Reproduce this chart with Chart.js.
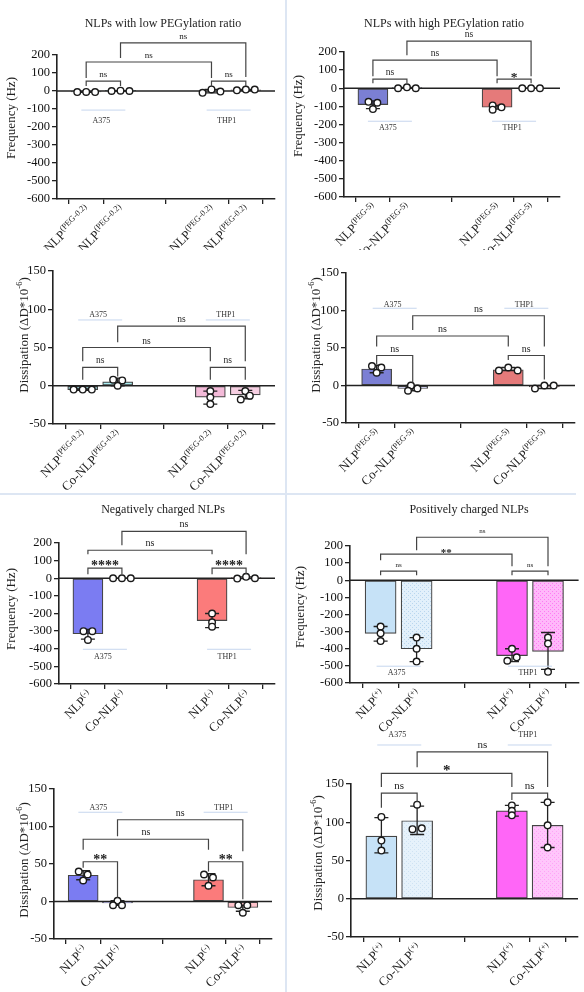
<!DOCTYPE html>
<html lang="en">
<head>
<meta charset="UTF-8">
<title>QCM-D frequency and dissipation of NLPs</title>
<script src="https://cdn.jsdelivr.net/npm/chart.js"></script>
<style>
  body { margin: 0; background: #fff; }
  #page { position: relative; width: 584px; height: 992px; overflow: hidden; }
  .panel { position: absolute; }
  .rule { position: absolute; background: #dde6f3; }
</style>
</head>
<body>
<div id="page">
  <div class="rule" style="left:285px;top:0;width:2px;height:992px"></div>
  <div class="rule" style="left:0;top:493px;width:576px;height:2px"></div>
</div>
<script>
// ---- data ----
const cellLines = ['A375', 'THP1'];
const sampleNames = ['NLP', 'Co-NLP', 'NLP', 'Co-NLP'];
// significance order: A375 pair, THP1 pair, NLP vs NLP, Co-NLP vs Co-NLP

// low PEGylation (PEG-0.2)
const freqLowMean = [-5, 1, 0, 6];
const freqLowPoints = [[-6, -5, -6], [0, 2, 0], [-10, 9, -3], [4, 8, 8]];
const freqLowErr = [[-7, -3], [-1, 2], [-10, 9], [3, 9]];
const freqLowSig = ['ns', 'ns', 'ns', 'ns'];

const dissLowMean = [-5, 5, -15, -12];
const dissLowPoints = [[-5, -5, -5], [8, 7, 0], [-7, -15, -24], [-7, -13, -18]];
const dissLowErr = [[-6, -4], [0, 10], [-24, -7], [-17, -6]];
const dissLowSig = ['ns', 'ns', 'ns', 'ns'];

// high PEGylation (PEG-5)
const freqHighMean = [-90, 2, -105, 0];
const freqHighPoints = [[-75, -80, -115], [0, 5, 0], [-95, -105, -118], [0, 0, 0]];
const freqHighErr = [[-112, -70], [-1, 5], [-115, -95], [-1, 1]];
const freqHighSig = ['ns', '*', 'ns', 'ns'];

const dissHighMean = [22, -4, 21, -2];
const dissHighPoints = [[26, 24, 17], [0, -7, -4], [20, 24, 20], [-4, 0, 0]];
const dissHighErr = [[17, 27], [-7, 0], [20, 24], [-4, 0]];
const dissHighSig = ['ns', 'ns', 'ns', 'ns'];

// negatively charged
const freqNegMean = [-315, 0, -240, 3];
const freqNegPoints = [[-300, -300, -350], [0, 0, 0], [-200, -250, -275], [-2, 8, 0]];
const freqNegErr = [[-345, -290], [-1, 1], [-280, -200], [-2, 8]];
const freqNegSig = ['****', '****', 'ns', 'ns'];

const dissNegMean = [35, -2, 29, -8];
const dissNegPoints = [[40, 36, 28], [1, -5, -5], [36, 32, 21], [-5, -5, -15]];
const dissNegErr = [[29, 41], [-5, 1], [21, 37], [-13, -5]];
const dissNegSig = ['**', '**', 'ns', 'ns'];

// positively charged
const freqPosMean = [-310, -400, -440, -415];
const freqPosPoints = [[-270, -310, -355], [-335, -400, -475], [-400, -470, -450], [-335, -370, -535]];
const freqPosErr = [[-355, -270], [-475, -335], [-475, -400], [-520, -305]];
const freqPosSig = ['ns', 'ns', '**', 'ns'];

const dissPosMean = [82, 102, 115, 96];
const dissPosPoints = [[107, 76, 63], [123, 91, 92], [122, 115, 109], [126, 96, 67]];
const dissPosErr = [[60, 106], [84, 121], [108, 122], [67, 126]];
const dissPosSig = ['ns', 'ns', '*', 'ns'];

// ---- layout ----
const xPos = [1, 2, 4.65, 5.65];
const xMin = 0.15, xMax = 6.5;
const SERIF = '"Liberation Serif", "DejaVu Serif", serif';

function dotted(base, dot) {
  const c = document.createElement('canvas');
  c.width = 4; c.height = 4;
  const g = c.getContext('2d');
  g.fillStyle = base; g.fillRect(0, 0, 4, 4);
  g.fillStyle = dot; g.fillRect(0, 0, 1, 1); g.fillRect(2, 2, 1, 1);
  return g.createPattern(c, 'repeat');
}

const cyanPink = ['#a8e4ea', '#a9eef3', '#f3bad8', '#f6cfe2'];
const bluePink = ['#7b7fd4', '#c8caf1', '#e57a7a', '#f6c4c4'];
const brightBluePink = ['#7b7cf2', '#b9b9f6', '#fb7b7b', '#ffc3cb'];
const posFreqColors = ['#c6e2f7', dotted('#e2f0fb', '#b9d6ee'), '#ff66f7', dotted('#ffb8fa', '#ff7af3')];
const posDissColors = ['#c6e2f7', dotted('#e6f2fb', '#cfe3f3'), '#ff66f7', dotted('#ffc6fb', '#ffa3f7')];

const J = 0.26, j = 0.13;
const freqAxis = { range: [-600, 200, 100], title: [{ t: 'Frequency (Hz)' }] };
const dissAxis = { range: [-50, 150, 50], title: [{ t: 'Dissipation (\u0394D*10' }, { t: '-6', small: true }, { t: ')' }] };

const panels = [
  { box: [0, 0, 286, 250], plot: [57, 55, 275, 199], axis: freqAxis, yTitle: [10, 118],
    title: 'NLPs with low PEGylation ratio', titlePos: [163, 24], sup: '(PEG-0.2)',
    mean: freqLowMean, pts: freqLowPoints, err: freqLowErr, sig: freqLowSig, colors: cyanPink,
    jitter: [[-J, 0, J], [-J, 0, J], [-J, 0, J], [-J, 0, J]],
    brackets: [[0, 1, 55, 28, 28], [2, 3, 55, 28, 28], [0, 2, 161, 72, 72], [1, 3, 267, 183, 78]],
    group: [-106, -167], sigSize: 9, barW: 30 },
  { box: [288, 0, 296, 250], plot: [344, 52, 560, 197], axis: freqAxis, yTitle: [297, 116],
    title: 'NLPs with high PEGylation ratio', titlePos: [444, 24], sup: '(PEG-5)',
    mean: freqHighMean, pts: freqHighPoints, err: freqHighErr, sig: freqHighSig, colors: bluePink,
    jitter: [[-j, j, 0], [-J, 0, J], [-j, j, -j], [-J, 0, J]],
    brackets: [[0, 1, 50, 28, 28], [2, 3, 50, 28, 28], [0, 2, 155, 66, 66], [1, 3, 260, 182, 66]],
    group: [-182, -221], sigSize: 9.5, barW: 30 },
  { box: [0, 250, 286, 240], plot: [53, 271, 275, 424], axis: dissAxis, yTitle: [23, 335],
    sup: '(PEG-0.2)',
    mean: dissLowMean, pts: dissLowPoints, err: dissLowErr, sig: dissLowSig, colors: cyanPink,
    jitter: [[-J, 0, J], [-j, j, 0], [0, 0, 0], [0, j, -j]],
    brackets: [[0, 1, 24, 8, 12], [2, 3, 24, 8, 8], [0, 2, 50, 32, 32], [1, 3, 78, 57, 32]],
    group: [86, 92], sigSize: 9.5, barW: 30 },
  { box: [288, 250, 296, 240], plot: [346, 273, 575, 423], axis: dissAxis, yTitle: [315, 335],
    sup: '(PEG-5)',
    mean: dissHighMean, pts: dissHighPoints, err: dissHighErr, sig: dissHighSig, colors: bluePink,
    jitter: [[-j, j, 0], [-0.05, -j, j], [-J, 0, J], [-J, 0, J]],
    brackets: [[0, 1, 40, 28, 4], [2, 3, 40, 34, 8], [0, 2, 66, 52, 52], [1, 3, 93, 74, 52]],
    group: [103, 108], sigSize: 10, barW: 30 },
  { box: [0, 495, 286, 245], plot: [59, 543, 275, 684], axis: freqAxis, yTitle: [10, 609],
    title: 'Negatively charged NLPs', titlePos: [163, 510], sup: '(-)',
    mean: freqNegMean, pts: freqNegPoints, err: freqNegErr, sig: freqNegSig, colors: brightBluePink,
    jitter: [[-j, j, 0], [-J, 0, J], [0, 0, 0], [-J, 0, J]],
    brackets: [[0, 1, 57, 23, 23], [2, 3, 57, 23, 23], [0, 2, 159, 136, 136], [1, 3, 266, 187, 136]],
    group: [-403, -448], sigSize: 10, barW: 30 },
  { box: [288, 495, 296, 245], plot: [350, 546, 581, 683], axis: freqAxis, yTitle: [299, 607],
    title: 'Positively charged NLPs', titlePos: [469, 510], sup: '(+)',
    mean: freqPosMean, pts: freqPosPoints, err: freqPosErr, sig: freqPosSig, colors: posFreqColors,
    jitter: [[0, 0, 0], [0, 0, 0], [0, -j, j], [0, 0, 0]],
    brackets: [[0, 1, 53, 29, 29], [2, 3, 53, 29, 29], [0, 2, 152, 117, 82], [1, 3, 251, 175, 82]],
    group: [-502, -543], sigSize: 7, barW: 31 },
  { box: [0, 740, 286, 252], plot: [54, 789, 272, 939], axis: dissAxis, yTitle: [23, 860],
    sup: '(-)',
    mean: dissNegMean, pts: dissNegPoints, err: dissNegErr, sig: dissNegSig, colors: brightBluePink,
    jitter: [[-j, j, 0], [0, -j, j], [-j, j, 0], [-j, j, 0]],
    brackets: [[0, 1, 53, 45, 5], [2, 3, 53, 40, 3], [0, 2, 83, 69, 69], [1, 3, 109, 87, 67]],
    group: [119, 125], sigSize: 10, barW: 30 },
  { box: [288, 715, 296, 277], plot: [351, 784, 578, 937], axis: dissAxis, yTitle: [317, 853],
    sup: '(+)',
    mean: dissPosMean, pts: dissPosPoints, err: dissPosErr, sig: dissPosSig, colors: posDissColors,
    jitter: [[0, 0, 0], [0, -j, j], [0, 0, 0], [0, 0, 0]],
    brackets: [[0, 1, 138, 119, 126], [2, 3, 138, 129, 129], [0, 2, 164, 146, 146], [1, 3, 192, 172, 146]],
    group: [201, 214], sigSize: 11, barW: 31 }
];

// ---- drawing helpers ----
function partFont(part, size) {
  return (part.small ? size * 0.65 : size) + 'px ' + SERIF;
}
function richWidth(ctx, parts, size) {
  let w = 0;
  parts.forEach(part => { ctx.font = partFont(part, size); w += ctx.measureText(part.t).width; });
  return w;
}
function drawRich(ctx, parts, x, y, size) {
  let cx = x;
  parts.forEach(part => {
    ctx.font = partFont(part, size);
    ctx.fillText(part.t, cx, y - (part.small ? size * 0.4 : 0));
    cx += ctx.measureText(part.t).width;
  });
}

function overlay(p) {
  const bx = p.box[0], by = p.box[1];
  return {
    id: 'overlay',
    afterDatasetDraw(chart, args) {
      if (args.index !== 0) return;
      const { ctx, chartArea, scales: { x, y } } = chart;
      ctx.save();
      ctx.strokeStyle = '#222';
      ctx.lineWidth = 1.6;
      const y0 = y.getPixelForValue(0);
      ctx.beginPath();
      ctx.moveTo(chartArea.left, y0);
      ctx.lineTo(chartArea.right, y0);
      ctx.stroke();
      ctx.lineWidth = 1.3;
      p.err.forEach(([lo, hi], i) => {
        const px = x.getPixelForValue(xPos[i]);
        const a = y.getPixelForValue(lo), b = y.getPixelForValue(hi);
        ctx.beginPath();
        ctx.moveTo(px, a); ctx.lineTo(px, b);
        ctx.moveTo(px - 7, a); ctx.lineTo(px + 7, a);
        ctx.moveTo(px - 7, b); ctx.lineTo(px + 7, b);
        ctx.stroke();
      });
      ctx.restore();
    },
    afterDraw(chart) {
      const { ctx, chartArea, scales: { x, y } } = chart;
      ctx.save();
      ctx.fillStyle = '#222';
      ctx.textAlign = 'left';
      ctx.textBaseline = 'alphabetic';

      // significance brackets
      ctx.strokeStyle = '#444';
      ctx.lineWidth = 1.2;
      p.brackets.forEach(([i1, i2, yv, b1, b2], k) => {
        const x1 = x.getPixelForValue(xPos[i1]), x2 = x.getPixelForValue(xPos[i2]);
        const yl = y.getPixelForValue(yv);
        ctx.beginPath();
        ctx.moveTo(x1, y.getPixelForValue(b1));
        ctx.lineTo(x1, yl);
        ctx.lineTo(x2, yl);
        ctx.lineTo(x2, y.getPixelForValue(b2));
        ctx.stroke();
        const label = p.sig[k];
        ctx.textAlign = 'center';
        if (label.startsWith('*')) {
          ctx.font = 'bold ' + (p.sigSize + 4) + 'px ' + SERIF;
          ctx.fillText(label, (x1 + x2) / 2, yl + 2);
        } else {
          ctx.font = p.sigSize + 'px ' + SERIF;
          ctx.fillText(label, (x1 + x2) / 2, yl - 4);
        }
      });

      // cell line group labels
      const [lineY, textY] = p.group;
      cellLines.forEach((name, g) => {
        const cx = x.getPixelForValue((xPos[2 * g] + xPos[2 * g + 1]) / 2);
        const ly = y.getPixelForValue(lineY);
        ctx.strokeStyle = '#c6d6ee';
        ctx.lineWidth = 1;
        ctx.beginPath();
        ctx.moveTo(cx - 22, ly); ctx.lineTo(cx + 22, ly);
        ctx.stroke();
        ctx.font = '8px ' + SERIF;
        ctx.textAlign = 'center';
        ctx.textBaseline = 'middle';
        ctx.fillStyle = '#333';
        ctx.fillText(name, cx - 2, y.getPixelForValue(textY));
      });
      ctx.textBaseline = 'alphabetic';
      ctx.fillStyle = '#222';
      ctx.textAlign = 'left';

      // rotated x labels with superscript
      sampleNames.forEach((name, i) => {
        const parts = [{ t: name }, { t: p.sup, small: true }];
        const w = richWidth(ctx, parts, 13);
        ctx.save();
        ctx.translate(x.getPixelForValue(xPos[i]) + 2, chartArea.bottom + 9);
        ctx.rotate(-Math.PI / 4);
        drawRich(ctx, parts, -w, 4, 13);
        ctx.restore();
      });

      // y title
      const tparts = p.axis.title;
      const tw = richWidth(ctx, tparts, 13);
      ctx.save();
      ctx.translate(p.yTitle[0] - bx, p.yTitle[1] - by);
      ctx.rotate(-Math.PI / 2);
      drawRich(ctx, tparts, -tw / 2, 4.5, 13);
      ctx.restore();

      // panel title
      if (p.title) {
        ctx.font = '12px ' + SERIF;
        ctx.textAlign = 'center';
        ctx.textBaseline = 'middle';
        ctx.fillText(p.title, p.titlePos[0] - bx, p.titlePos[1] - by);
      }
      ctx.restore();
    }
  };
}

function makePanel(p) {
  const [bx, by, bw, bh] = p.box;
  const [L, T, R, B] = p.plot;
  const wrap = document.createElement('div');
  wrap.className = 'panel';
  wrap.style.cssText = `left:${bx}px;top:${by}px;width:${bw}px;height:${bh}px`;
  const canvas = document.createElement('canvas');
  canvas.width = bw;
  canvas.height = bh;
  wrap.appendChild(canvas);
  document.getElementById('page').appendChild(wrap);

  const barData = p.mean.map((v, i) => ({ x: xPos[i], y: v }));
  const ptData = [];
  p.pts.forEach((arr, i) => arr.forEach((v, k) => ptData.push({ x: xPos[i] + p.jitter[i][k], y: v })));
  const [yMin, yMax, yStep] = p.axis.range;
  const yTicks = [];
  for (let v = yMin; v <= yMax; v += yStep) yTicks.push({ value: v });

  new Chart(canvas, {
    type: 'bar',
    data: {
      datasets: [
        { type: 'bar', data: barData, backgroundColor: p.colors, borderColor: '#444',
          borderWidth: 1.2, borderSkipped: false, barThickness: p.barW, order: 2 },
        { type: 'scatter', data: ptData, pointRadius: 3.3, pointBorderWidth: 1.4,
          pointBackgroundColor: '#fff', pointBorderColor: '#1a1a1a', order: 1 }
      ]
    },
    options: {
      responsive: false,
      devicePixelRatio: 1,
      animation: false,
      layout: { padding: { top: T - by, right: bx + bw - R, left: 0, bottom: 0 } },
      plugins: { legend: { display: false }, tooltip: { enabled: false } },
      scales: {
        x: {
          type: 'linear', min: xMin, max: xMax, offset: false,
          afterBuildTicks: ax => { ax.ticks = xPos.map(v => ({ value: v })); },
          afterFit: ax => { ax.height = by + bh - B; },
          ticks: { display: false },
          grid: { display: true, drawOnChartArea: false, drawTicks: true, tickLength: 5, color: '#222', lineWidth: 1.3 },
          border: { display: true, color: '#222', width: 1.6 }
        },
        y: {
          min: yMin, max: yMax,
          afterBuildTicks: ax => { ax.ticks = yTicks.map(t => ({ value: t.value })); },
          afterFit: ax => { ax.width = L - bx; },
          ticks: { autoSkip: false, font: { family: SERIF, size: 12.5 }, color: '#111', padding: 2,
                   callback: v => String(v) },
          grid: { drawOnChartArea: false, tickLength: 5, color: '#222', lineWidth: 1.3 },
          border: { color: '#222', width: 1.6 }
        }
      }
    },
    plugins: [overlay(p)]
  });
}

panels.forEach(makePanel);
</script>
</body>
</html>
